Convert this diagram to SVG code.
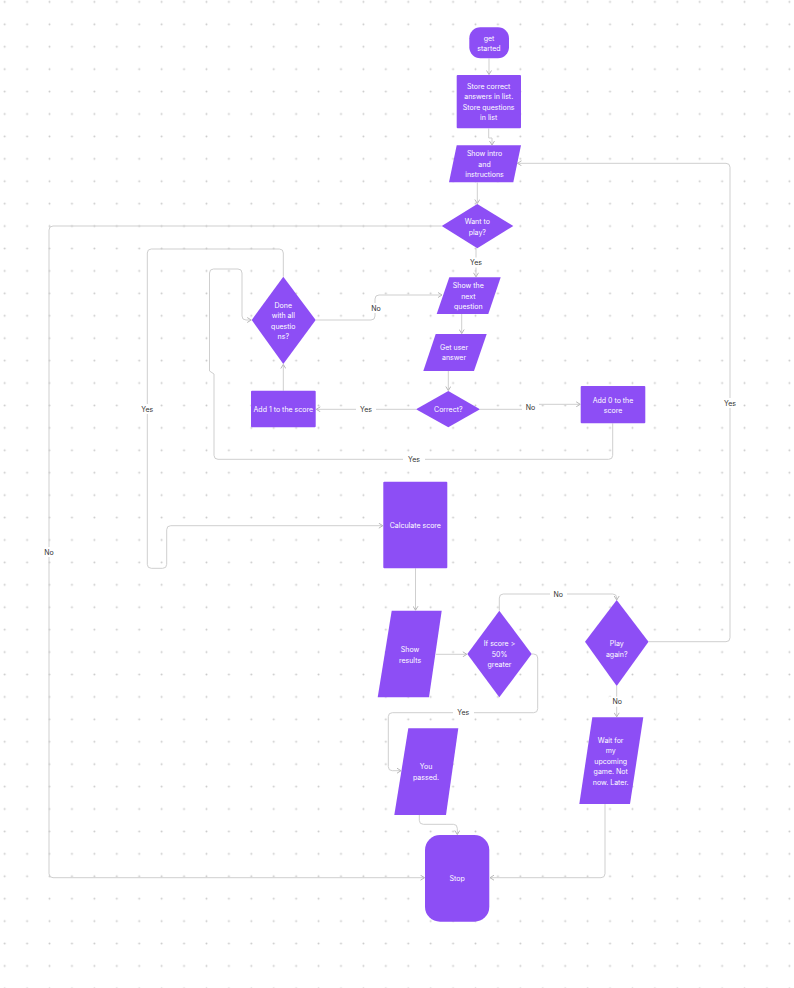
<svg xmlns="http://www.w3.org/2000/svg" width="794" height="988" viewBox="0 0 794 988">
<defs>
<pattern id="dots" x="-6.51" y="-9.31" width="22.42" height="22.42" patternUnits="userSpaceOnUse">
<circle cx="11.21" cy="11.21" r="0.95" fill="#c9c9c9"/>
</pattern>
<marker id="arr" markerWidth="6" markerHeight="6" refX="4.5" refY="3" orient="auto" markerUnits="userSpaceOnUse">
<path d="M0.5,0.5 L4.5,3 L0.5,5.5" fill="none" stroke="#b8b8b8" stroke-width="1"/>
</marker>
<style>
.n{fill:#8d4ef5}
.t{font-family:Inter,"Liberation Sans",sans-serif;font-size:7px;fill:#ffffff;text-anchor:middle;dominant-baseline:central}
.c{fill:none;stroke:#cfcfcf;stroke-width:1}
.a{marker-end:url(#arr)}
.lb{fill:#ffffff}
.l{font-family:Inter,"Liberation Sans",sans-serif;font-size:7px;fill:#333333;text-anchor:middle;dominant-baseline:central}
</style>
</defs>
<rect width="794" height="988" fill="#ffffff"/>
<rect width="794" height="988" fill="url(#dots)"/>

<g id="connectors">
<path class="c a" d="M489,58.5 V74.5"/>
<path class="c a" d="M488.7,128.5 V138 H492 V145"/>
<path class="c a" d="M477.3,182.5 V203.5"/>
<path class="c a" d="M648.5,641.7 H726 Q730,641.7 730,637.7 V167.3 Q730,163.3 726,163.3 H517.5"/>
<path class="c a" d="M441.7,226 H53 Q49,226 49,230 V873.7 Q49,877.7 53,877.7 H424.5"/>
<path class="c a" d="M476,248.3 V276.8"/>
<path class="c a" d="M461.7,314 V333.5"/>
<path class="c a" d="M448.3,371 V390.5"/>
<path class="c a" d="M480,409.3 H528 V404.3 H580.2"/>
<path class="c a" d="M416,409.3 H316.3"/>
<path class="c a" d="M283.3,390.7 V364.5"/>
<path class="c a" d="M315.7,320 H371 Q375,320 375,316 V299 Q375,295 379,295 H442"/>
<path class="c a" d="M612.7,423.3 V455.3 Q612.7,459.3 608.7,459.3 H218 Q214,459.3 214,455.3 V374 L209.5,371 V273 Q209.5,269 213.5,269 H238 Q242,269 242,273 V316 Q242,320 246,320 H251.2"/>
<path class="c a" d="M283.3,276.7 V253 Q283.3,249 279.3,249 H151.3 Q147.3,249 147.3,253 V564.3 Q147.3,568.3 151.3,568.3 H162.7 Q166.7,568.3 166.7,564.3 V529.7 Q166.7,525.7 170.7,525.7 H382.8"/>
<path class="c a" d="M415.5,568.3 V610.2"/>
<path class="c a" d="M436,654.3 H466.8"/>
<path class="c a" d="M499.3,610.7 V598 Q499.3,594 503.3,594 H612.7 Q616.7,594 616.7,598 V600"/>
<path class="c a" d="M531.7,654 H533.7 Q537.7,654 537.7,658 V708.7 Q537.7,712.7 533.7,712.7 H392.3 Q388.3,712.7 388.3,716.7 V766.7 Q388.3,770.7 392.3,770.7 H401"/>
<path class="c a" d="M419.3,815 V820.3 Q419.3,824.3 423.3,824.3 H453.3 Q457.3,824.3 457.3,828.3 V834.5"/>
<path class="c a" d="M616.7,686 V716.8"/>
<path class="c a" d="M605,804 V873.7 Q605,877.7 601,877.7 H490"/>

<rect class="lb" x="719" y="398" width="22" height="10"/><text class="l" x="730" y="403">Yes</text>
<rect class="lb" x="41" y="547" width="16" height="10"/><text class="l" x="49" y="552">No</text>
<rect class="lb" x="465" y="257.5" width="22" height="10"/><text class="l" x="476" y="262.5">Yes</text>
<rect class="lb" x="522" y="402.3" width="17" height="10"/><text class="l" x="530.5" y="407.3">No</text>
<rect class="lb" x="356" y="404.3" width="20" height="10"/><text class="l" x="366" y="409.3">Yes</text>
<rect class="lb" x="368" y="303" width="16" height="10"/><text class="l" x="376" y="308">No</text>
<rect class="lb" x="403" y="454.3" width="22" height="10"/><text class="l" x="414" y="459.3">Yes</text>
<rect class="lb" x="137" y="404" width="21" height="10"/><text class="l" x="147.3" y="409">Yes</text>
<rect class="lb" x="550" y="589" width="17" height="10"/><text class="l" x="558.3" y="594">No</text>
<rect class="lb" x="453" y="707.7" width="21" height="10"/><text class="l" x="463.3" y="712.7">Yes</text>
<rect class="lb" x="609" y="696.7" width="17" height="10"/><text class="l" x="617.3" y="701.7">No</text>
</g>

<g id="get-started">
<rect class="n" x="469.3" y="27.3" width="39.7" height="31" rx="11"/>
<text class="t" x="489" y="38.2">get</text>
<text class="t" x="489" y="48.7">started</text>
</g>
<g id="store">
<rect class="n" x="456.7" y="75" width="64.3" height="53.3" rx="1"/>
<text class="t" x="488.7" y="86.3">Store correct</text>
<text class="t" x="488.7" y="96.8">answers in list.</text>
<text class="t" x="488.7" y="107.3">Store questions</text>
<text class="t" x="488.7" y="117.8">in list</text>
</g>
<g id="show-intro">
<polygon class="n" points="456.7,145.3 521,145.3 513.3,182.3 449,182.3"/>
<text class="t" x="484.5" y="153.6">Show intro</text>
<text class="t" x="484.5" y="164">and</text>
<text class="t" x="484.5" y="174.4">instructions</text>
</g>
<g id="want-to-play">
<polygon class="n" points="477.3,204 513.3,226 477.3,248.3 441.7,226"/>
<text class="t" x="477.3" y="221.3">Want to</text>
<text class="t" x="477.3" y="232">play?</text>
</g>
<g id="show-next">
<polygon class="n" points="449.3,277.3 500.7,277.3 488.3,314 436.7,314"/>
<text class="t" x="468.3" y="285.5">Show the</text>
<text class="t" x="468.3" y="296">next</text>
<text class="t" x="468.3" y="306.5">question</text>
</g>
<g id="get-user-answer">
<polygon class="n" points="435.7,334 486.7,334 474,371 423.3,371"/>
<text class="t" x="454" y="347.3">Get user</text>
<text class="t" x="454" y="357.8">answer</text>
</g>
<g id="correct">
<polygon class="n" points="448.3,391 480,409.3 448.3,427.3 416,409.3"/>
<text class="t" x="448.3" y="409.3">Correct?</text>
</g>
<g id="add-0">
<rect class="n" x="580.7" y="386" width="64.6" height="37.3" rx="1"/>
<text class="t" x="613" y="400">Add 0 to the</text>
<text class="t" x="613" y="410.7">score</text>
</g>
<g id="done">
<polygon class="n" points="283.3,276.7 315.7,320 283.3,364 251.7,320"/>
<text class="t" x="283.3" y="305">Done</text>
<text class="t" x="283.3" y="315.5">with all</text>
<text class="t" x="283.3" y="326">questio</text>
<text class="t" x="283.3" y="336.6">ns?</text>
</g>
<g id="add-1">
<rect class="n" x="251" y="390.7" width="64.7" height="36.6" rx="1"/>
<text class="t" x="283.3" y="409.3">Add 1 to the score</text>
</g>
<g id="calculate-score">
<rect class="n" x="383.3" y="481.7" width="64" height="86.6" rx="1"/>
<text class="t" x="415.3" y="525.3">Calculate score</text>
</g>
<g id="show-results">
<polygon class="n" points="391.7,610.7 441.7,610.7 429,697.3 377.7,697.3"/>
<text class="t" x="410" y="649.3">Show</text>
<text class="t" x="410" y="660">results</text>
</g>
<g id="if-score">
<polygon class="n" points="499.3,610.7 531.7,654 499.3,697.3 467.3,654"/>
<text class="t" x="499.5" y="643.3">If score &gt;</text>
<text class="t" x="499.5" y="654">50%</text>
<text class="t" x="499.5" y="664.7">greater</text>
</g>
<g id="play-again">
<polygon class="n" points="616.7,600 648.5,641.7 616.7,686 585,641.7"/>
<text class="t" x="616.7" y="643.3">Play</text>
<text class="t" x="616.7" y="654">again?</text>
</g>
<g id="you-passed">
<polygon class="n" points="408.3,728.3 458.3,728.3 446,815 394.3,815"/>
<text class="t" x="426" y="766.7">You</text>
<text class="t" x="426" y="777.3">passed.</text>
</g>
<g id="wait">
<polygon class="n" points="592.3,717.3 643.3,717.3 630,804 579.3,804"/>
<text class="t" x="610.7" y="740">Wait for</text>
<text class="t" x="610.7" y="750.6">my</text>
<text class="t" x="610.7" y="761.2">upcoming</text>
<text class="t" x="610.7" y="771.8">game. Not</text>
<text class="t" x="610.7" y="782.4">now. Later.</text>
</g>
<g id="stop">
<rect class="n" x="425" y="835" width="64.3" height="86.7" rx="15"/>
<text class="t" x="457.2" y="878.7">Stop</text>
</g>
</svg>
